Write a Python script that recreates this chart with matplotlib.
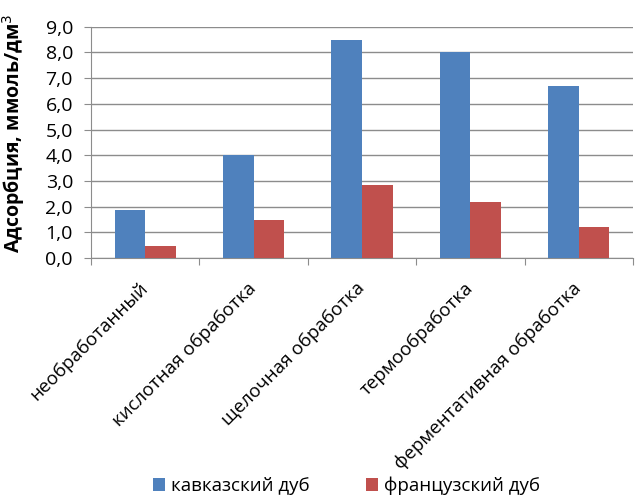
import matplotlib
matplotlib.use("Agg")
import matplotlib.pyplot as plt
import numpy as np
from matplotlib.ticker import FuncFormatter

categories = ["необработанный", "кислотная обработка", "щелочная обработка",
              "термообработка", "ферментативная обработка"]
caucasian = [1.85, 4.0, 8.5, 8.0, 6.7]
french = [0.48, 1.48, 2.83, 2.16, 1.19]
series_names = ["кавказский дуб", "французский дуб"]
y_ticks = [0, 1, 2, 3, 4, 5, 6, 7, 8, 9]
ylabel = "Адсорбция, ммоль/дм$^3$"

plt.rcParams['font.family'] = ['Open Sans', 'DejaVu Sans']

fig = plt.figure(figsize=(6.39, 4.95), dpi=100)
ax = fig.add_axes([0.1424, 0.4788, 0.8482, 0.4672])

x = np.arange(len(categories))
w = 0.282
ax.bar(x - w / 2, caucasian, w, color="#4F81BD", label=series_names[0], zorder=3)
ax.bar(x + w / 2, french, w, color="#C0504D", label=series_names[1], zorder=3)

ax.set_xlim(-0.5, len(categories) - 0.5)
ax.set_ylim(0, 9)
ax.set_yticks(y_ticks)
ax.yaxis.set_major_formatter(FuncFormatter(lambda v, p: f"{v:.1f}".replace(".", ",")))
ax.grid(axis="y", color="#8C8C8C", linewidth=1.0, zorder=0)
ax.set_axisbelow(True)

for s in ["top", "right"]:
    ax.spines[s].set_visible(False)
ax.spines["left"].set_color("#8C8C8C")
ax.spines["bottom"].set_color("#8C8C8C")

ax.set_xticks(np.arange(-0.5, len(categories), 1.0))
ax.set_xticklabels([])
ax.tick_params(axis="x", length=5, color="#8C8C8C")
ax.tick_params(axis="y", length=5, color="#8C8C8C", labelsize=14, pad=8)

for i, c in enumerate(categories):
    ax.annotate(c, xy=(i, 0), xycoords=("data", "axes fraction"),
                xytext=(0, -20), textcoords="offset points",
                rotation=45, ha="right", va="center", rotation_mode="anchor",
                fontsize=13.5)

ax.set_ylabel(ylabel, fontsize=14, fontweight="bold")
ax.yaxis.set_label_coords(-0.118, 0.541)

fig.legend(loc="lower center", bbox_to_anchor=(0.542, -0.034), ncol=2, frameon=False,
           fontsize=13.5, handlelength=0.65, handleheight=0.65, handletextpad=0.3,
           columnspacing=3.0)

fig.savefig("out.png", dpi=100)
